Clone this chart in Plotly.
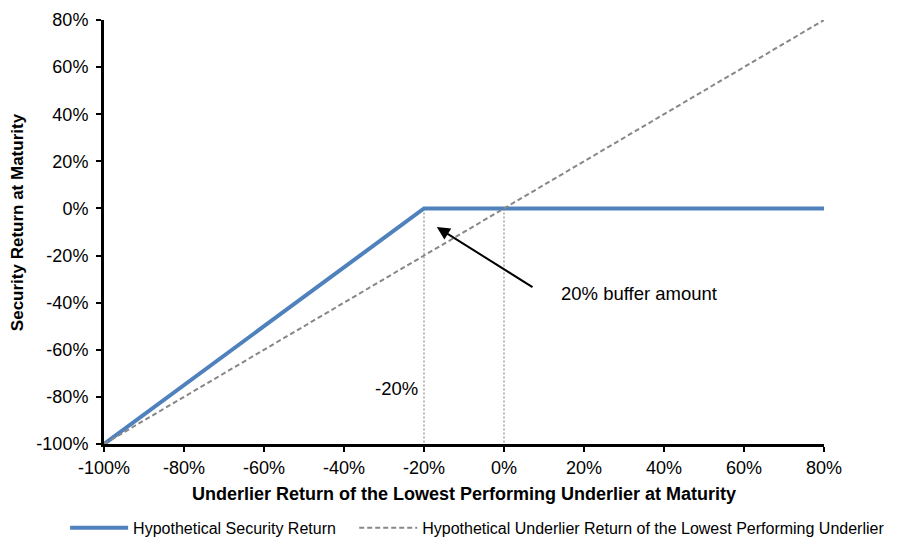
import plotly.graph_objects as go

# Payoff data (returns in %)
security_x = [-100, -20, 80]
security_y = [-100, 0, 0]
underlier_x = [-100, 80]
underlier_y = [-100, 80]

# buffer guide lines
buffer_x = [-20, 0]

tick_vals = [-100, -80, -60, -40, -20, 0, 20, 40, 60, 80]
tick_labels = ["-100%", "-80%", "-60%", "-40%", "-20%", "0%", "20%", "40%", "60%", "80%"]

FONT = "Liberation Sans, Arial, sans-serif"
NBSP = "\u00a0"

fig = go.Figure()

# dotted verticals from 0% down to the axis
for bx in buffer_x:
    fig.add_trace(
        go.Scatter(
            x=[bx, bx],
            y=[0, -100],
            mode="lines",
            line=dict(color="#8c8c8c", width=1.2, dash="2px,2px"),
            showlegend=False,
            hoverinfo="skip",
        )
    )

fig.add_trace(
    go.Scatter(
        x=security_x,
        y=security_y,
        mode="lines",
        # trailing nbsp widens the gap before the next legend entry
        name="Hypothetical Security Return" + NBSP * 3,
        line=dict(color="#4f81bd", width=4),
    )
)

fig.add_trace(
    go.Scatter(
        x=underlier_x,
        y=underlier_y,
        mode="lines",
        name="Hypothetical Underlier Return of the Lowest Performing Underlier",
        line=dict(color="#878787", width=2, dash="5px,3px"),
    )
)

fig.add_annotation(
    x=-16.8, y=-7.9, ax=7.5, ay=-33.8,
    xref="x", yref="y", axref="x", ayref="y",
    text="", showarrow=True,
    arrowhead=2, arrowsize=1.3, arrowwidth=2, arrowcolor="black",
)
fig.add_annotation(
    x=13.8, y=-36.3, xref="x", yref="y",
    text="20% buffer amount", showarrow=False,
    xanchor="left", yanchor="middle",
    font=dict(size=18.5, color="black", family=FONT),
)
fig.add_annotation(
    x=-21, y=-76.3, xref="x", yref="y",
    text="-20%", showarrow=False,
    xanchor="right", yanchor="middle",
    font=dict(size=18.5, color="black", family=FONT),
)

# axis titles
fig.add_annotation(
    x=0.5, y=-0.118, xref="paper", yref="paper",
    text="<b>Underlier Return of the Lowest Performing Underlier at Maturity</b>",
    showarrow=False, xanchor="center", yanchor="middle",
    font=dict(size=18, color="black", family=FONT),
)
fig.add_annotation(
    x=-0.119, y=0.524, xref="paper", yref="paper",
    text="<b>Security Return at Maturity</b>",
    showarrow=False, textangle=-90, xanchor="center", yanchor="middle",
    font=dict(size=17, color="black", family=FONT),
)

fig.update_layout(
    width=906,
    height=553,
    template="plotly_white",
    paper_bgcolor="white",
    plot_bgcolor="white",
    font=dict(family=FONT, size=18, color="black"),
    margin=dict(l=104, r=82, t=20, b=109, autoexpand=False),
    xaxis=dict(
        range=[-100, 80],
        tickvals=tick_vals,
        ticktext=tick_labels,
        showgrid=False,
        zeroline=False,
        showline=True,
        linewidth=3,
        linecolor="black",
        ticks="outside",
        ticklen=5,
        tickwidth=2,
        tickcolor="black",
        automargin=False,
    ),
    yaxis=dict(
        range=[-100, 80],
        tickvals=tick_vals,
        ticktext=tick_labels,
        showgrid=False,
        zeroline=False,
        showline=True,
        linewidth=3,
        linecolor="black",
        ticks="outside",
        ticklen=5,
        tickwidth=2,
        tickcolor="black",
        ticklabelstandoff=4,
        automargin=False,
    ),
    legend=dict(
        orientation="h",
        x=-0.054,
        y=-0.198,
        xanchor="left",
        yanchor="middle",
        font=dict(size=16),
        itemwidth=58,
    ),
)

# page body has a default 8px margin; drop it so the figure sits at 0,0
fig.write_html(
    "out.html",
    config={"displayModeBar": False},
    post_script="document.body.style.margin='0px';",
)
